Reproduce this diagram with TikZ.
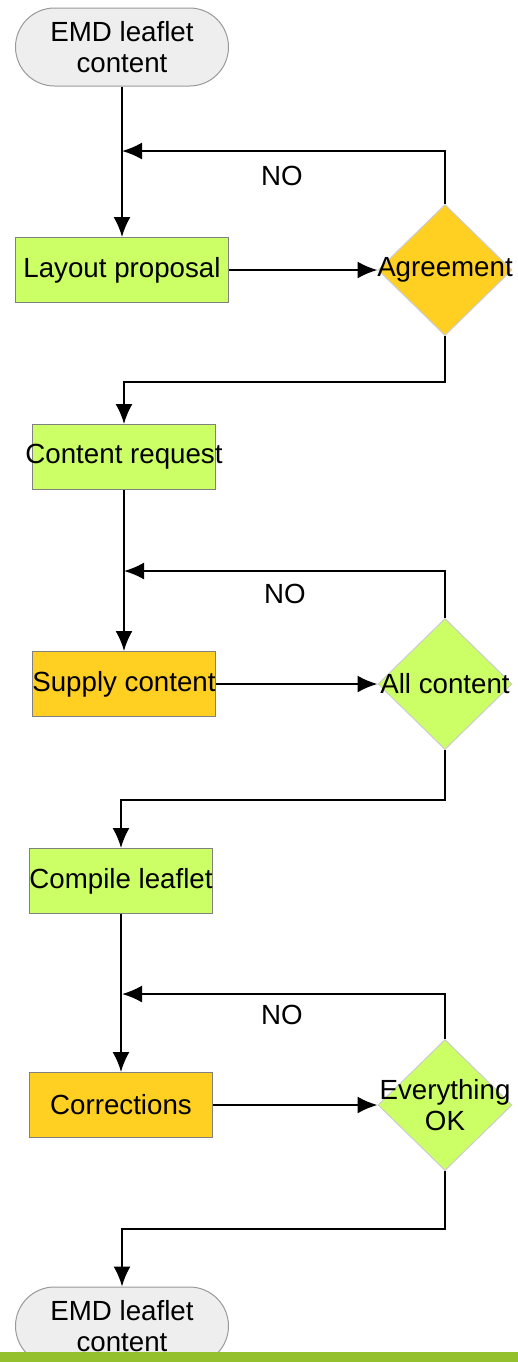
\documentclass[tikz,border=0pt]{standalone}
\usepackage{fontspec}
\setmainfont{Liberation Sans}
\usepackage{tikz}
\usetikzlibrary{arrows.meta,shapes.geometric,shapes.misc}

\definecolor{stepgreen}{HTML}{CCFF66}
\definecolor{stepgold}{HTML}{FFCF22}
\definecolor{endgray}{HTML}{EEEEEE}
\definecolor{bargreen}{HTML}{93C02C}
\newcommand{\flowfont}{\fontsize{13.85}{15.5}\selectfont}

\begin{document}
\begin{tikzpicture}[x=0.5pt,y=-0.5pt,
  every label/.style={font=\flowfont,inner sep=0pt,align=center},
  flow/.style={line width=1pt,-{Latex[length=10pt,width=8.5pt]}},
  terminal/.style={rounded rectangle,draw=black!40,line width=0.5pt,fill=endgray,
    minimum width=106.5pt,minimum height=39pt,inner sep=0pt},
  task/.style={rectangle,draw=black!50,line width=0.5pt,
    minimum width=91.5pt,minimum height=32.5pt,inner sep=0pt},
  wide/.style={minimum width=106.5pt},
  decision/.style={diamond,draw=black!20,line width=0.5pt,aspect=1,
    minimum width=67pt,minimum height=65.5pt,inner sep=0pt}]
\useasboundingbox (0,0) rectangle (518,1362);

\node[terminal,label=center:{EMD leaflet\\content}] (start) at (122,47) {};
\node[task,wide,fill=stepgreen,label=center:Layout proposal] (layout) at (122,270) {};
\node[decision,fill=stepgold,label=center:Agreement] (agree) at (445,270) {};
\node[task,fill=stepgreen,label=center:Content request] (request) at (124,457) {};
\node[task,fill=stepgold,label=center:Supply content] (supply) at (124,684) {};
\node[decision,fill=stepgreen,label=center:All content] (allcont) at (445,684) {};
\node[task,fill=stepgreen,label=center:Compile leaflet] (compile) at (121,881) {};
\node[task,fill=stepgold,label=center:Corrections] (correct) at (121,1105) {};
\node[decision,fill=stepgreen,label=center:{Everything\\OK}] (allok) at (445,1105) {};
\node[terminal,label=center:{EMD leaflet\\content}] (stop) at (122,1326) {};

\coordinate (back1) at (122,151);
\coordinate (back2) at (124,571);
\coordinate (back3) at (122,994);

\node[font=\flowfont] (no1) at (282,176) {NO};
\node[font=\flowfont] (no2) at (285,594) {NO};
\node[font=\flowfont] (no3) at (282,1015) {NO};

\draw[flow] (start) -- (layout);
\draw[flow] (layout) -- (agree.west);
\draw[flow] (agree.north) |- (back1);
\draw[flow] (agree.south) -- ++(0,46) -| (request.north);
\draw[flow] (request) -- (supply);
\draw[flow] (supply) -- (allcont.west);
\draw[flow] (allcont.north) |- (back2);
\draw[flow] (allcont.south) -- ++(0,50) -| (compile.north);
\draw[flow] (compile) -- (correct);
\draw[flow] (correct) -- (allok.west);
\draw[flow] (allok.north) |- (back3);
\draw[flow] (allok.south) -- ++(0,58) -| (stop.north);

\fill[bargreen] (0,1352) rectangle (518,1362);
\end{tikzpicture}
\end{document}
